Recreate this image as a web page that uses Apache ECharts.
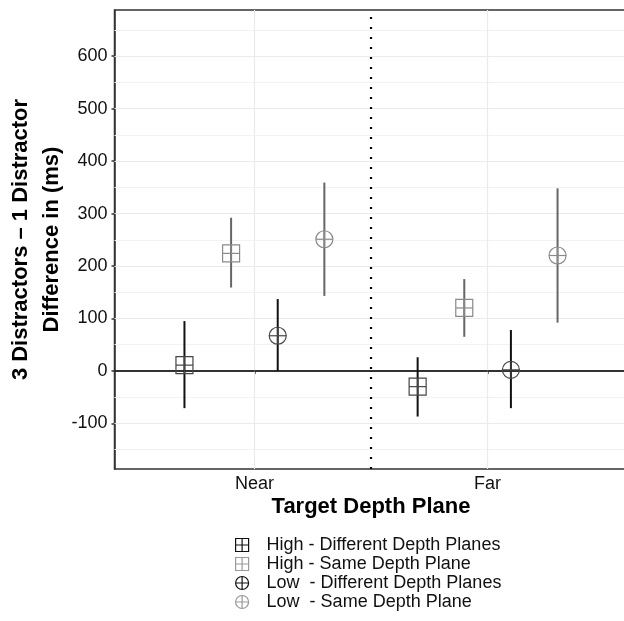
<!DOCTYPE html>
<html>
<head>
<meta charset="utf-8">
<script src="https://cdn.jsdelivr.net/npm/echarts@6/dist/echarts.min.js"></script>
<style>html,body{margin:0;padding:0;background:#fff;}#c{width:624px;height:621px;}</style>
</head>
<body>
<div id="c"></div>
<script>
// ---- data ----
var categories = ['Near', 'Far'];
var seriesNames = ['High - Different Depth Planes', 'High - Same Depth Plane', 'Low  - Different Depth Planes', 'Low  - Same Depth Plane'];
var highDiff   = [11, -30];
var highDiffLo = [-71, -87];
var highDiffHi = [95, 26];
var highSame   = [224, 120];
var highSameLo = [159, 65];
var highSameHi = [292, 175];
var lowDiff    = [67, 2];
var lowDiffLo  = [0, -71];
var lowDiffHi  = [137, 78];
var lowSame    = [251, 220];
var lowSameLo  = [143, 92];
var lowSameHi  = [359, 348];
var yTicks = [-100, 0, 100, 200, 300, 400, 500, 600];
var yMinor = [-150, -50, 50, 150, 250, 350, 450, 550, 650];

var FONT = 'Liberation Sans, Arial, Helvetica, sans-serif';
var groups = [
  {name: seriesNames[0], v: highDiff, lo: highDiffLo, hi: highDiffHi, shape: 'square', bar: '#111', mark: '#444'},
  {name: seriesNames[1], v: highSame, lo: highSameLo, hi: highSameHi, shape: 'square', bar: '#666', mark: '#8a8a8a'},
  {name: seriesNames[2], v: lowDiff,  lo: lowDiffLo,  hi: lowDiffHi,  shape: 'circle', bar: '#111', mark: '#444'},
  {name: seriesNames[3], v: lowSame,  lo: lowSameLo,  hi: lowSameHi,  shape: 'circle', bar: '#666', mark: '#8a8a8a'}
];
var dodge = [-0.3, -0.1, 0.1, 0.3];

var chart = echarts.init(document.getElementById('c'), null, {renderer: 'canvas'});

var series = groups.map(function (g, gi) {
  var data = categories.map(function (c, ci) {
    return [ci + 1 + dodge[gi], g.v[ci], g.lo[ci], g.hi[ci]];
  });
  return {
    type: 'custom',
    name: g.name,
    data: data,
    z: 10,
    encode: {x: 0, y: [1, 2, 3]},
    renderItem: function (params, api) {
      var x = api.value(0), y = api.value(1), lo = api.value(2), hi = api.value(3);
      var c = api.coord([x, y]);
      var pl = api.coord([x, lo]);
      var ph = api.coord([x, hi]);
      var h = 8.5;
      var children = [
        {type: 'line', shape: {x1: c[0], y1: pl[1], x2: c[0], y2: ph[1]}, style: {stroke: g.bar, lineWidth: 2}}
      ];
      if (g.shape === 'square') {
        children.push({type: 'rect', shape: {x: c[0] - h, y: c[1] - h, width: 2 * h, height: 2 * h}, style: {fill: 'none', stroke: g.mark, lineWidth: 1.2}});
      } else {
        children.push({type: 'circle', shape: {cx: c[0], cy: c[1], r: h}, style: {fill: 'none', stroke: g.mark, lineWidth: 1.2}});
      }
      children.push({type: 'line', shape: {x1: c[0] - h, y1: c[1], x2: c[0] + h, y2: c[1]}, style: {stroke: g.mark, lineWidth: 1.2}});
      children.push({type: 'line', shape: {x1: c[0], y1: c[1] - h, x2: c[0], y2: c[1] + h}, style: {stroke: g.mark, lineWidth: 1.2}});
      return {type: 'group', children: children};
    }
  };
});

// grid lines + reference lines
var gridLines = [];
yMinor.forEach(function (v) { gridLines.push({yAxis: v, lineStyle: {color: '#f2f2f2', width: 1, type: 'solid'}}); });
yTicks.forEach(function (v) { if (v !== 0) gridLines.push({yAxis: v, lineStyle: {color: '#ebebeb', width: 1.2, type: 'solid'}}); });
categories.forEach(function (c, ci) { gridLines.push({xAxis: ci + 1, lineStyle: {color: '#ebebeb', width: 1.2, type: 'solid'}}); });
series.push({
  type: 'line', data: [], silent: true, z: 1,
  markLine: {silent: true, symbol: 'none', label: {show: false}, animation: false, data: gridLines}
});
series.push({
  type: 'line', data: [], silent: true, z: 5,
  markLine: {silent: true, symbol: 'none', label: {show: false}, animation: false,
    data: [
      {yAxis: 0, lineStyle: {color: '#222', width: 1.5, type: 'solid'}},
      {xAxis: 1.5, lineStyle: {color: '#000', width: 2.2, type: [2, 8]}}
    ]}
});

var squareIcon = 'path://M0,0H16V16H0Z M8,0V16 M0,8H16';
var circleIcon = 'path://M0,8A8,8,0,1,1,16,8A8,8,0,1,1,0,8Z M8,0V16 M0,8H16';

var option = {
  backgroundColor: '#fff',
  animation: false,
  grid: {left: 114.5, top: 10, right: -3.5, bottom: 152, show: true, borderColor: '#333', borderWidth: 1.5, backgroundColor: 'transparent', containLabel: false, outerBoundsMode: 'none'},
  xAxis: {
    type: 'value', min: 0.4, max: 2.6,
    name: 'Target Depth Plane', nameLocation: 'middle', nameGap: 27, nameMoveOverlap: false,
    nameTextStyle: {fontFamily: FONT, fontSize: 22, fontWeight: 'bold', color: '#000', verticalAlign: 'top'},
    axisLine: {show: true, lineStyle: {color: '#333', width: 1.5}},
    axisTick: {show: true, length: 3, lineStyle: {color: '#333', width: 1.5}, customValues: [1, 2]},
    axisLabel: {show: true, margin: 6, fontFamily: FONT, fontSize: 18, color: '#111', customValues: [1, 2],
      formatter: function (v) { return categories[Math.round(v) - 1] || ''; }},
    splitLine: {show: false}
  },
  yAxis: {
    type: 'value', min: -187, max: 688,
    name: '3 Distractors \u2013 1 Distractor\nDifference in (ms)', nameLocation: 'middle', nameGap: 47, nameRotate: 90, nameMoveOverlap: false,
    nameTextStyle: {fontFamily: FONT, fontSize: 22, fontWeight: 'bold', color: '#000', lineHeight: 31, align: 'center'},
    axisLine: {show: true, lineStyle: {color: '#333', width: 1.5}},
    axisTick: {show: true, length: 3, lineStyle: {color: '#333', width: 1.5}, customValues: yTicks},
    axisLabel: {show: true, margin: 7, fontFamily: FONT, fontSize: 18, color: '#111', customValues: yTicks},
    splitLine: {show: false}
  },
  legend: {
    orient: 'vertical', left: 235, top: 535.5, padding: 0, itemWidth: 13, itemHeight: 13, itemGap: 0,
    textStyle: {fontFamily: FONT, fontSize: 18, color: '#111', lineHeight: 19, padding: [0, 0, 0, 13]},
    data: [
      {name: seriesNames[0], icon: squareIcon, itemStyle: {color: 'rgba(0,0,0,0)', borderColor: '#111', borderWidth: 1.2}},
      {name: seriesNames[1], icon: squareIcon, itemStyle: {color: 'rgba(0,0,0,0)', borderColor: '#999', borderWidth: 1.2}},
      {name: seriesNames[2], icon: circleIcon, itemStyle: {color: 'rgba(0,0,0,0)', borderColor: '#111', borderWidth: 1.2}},
      {name: seriesNames[3], icon: circleIcon, itemStyle: {color: 'rgba(0,0,0,0)', borderColor: '#999', borderWidth: 1.2}}
    ]
  },
  series: series
};
chart.setOption(option);
</script>
</body>
</html>
